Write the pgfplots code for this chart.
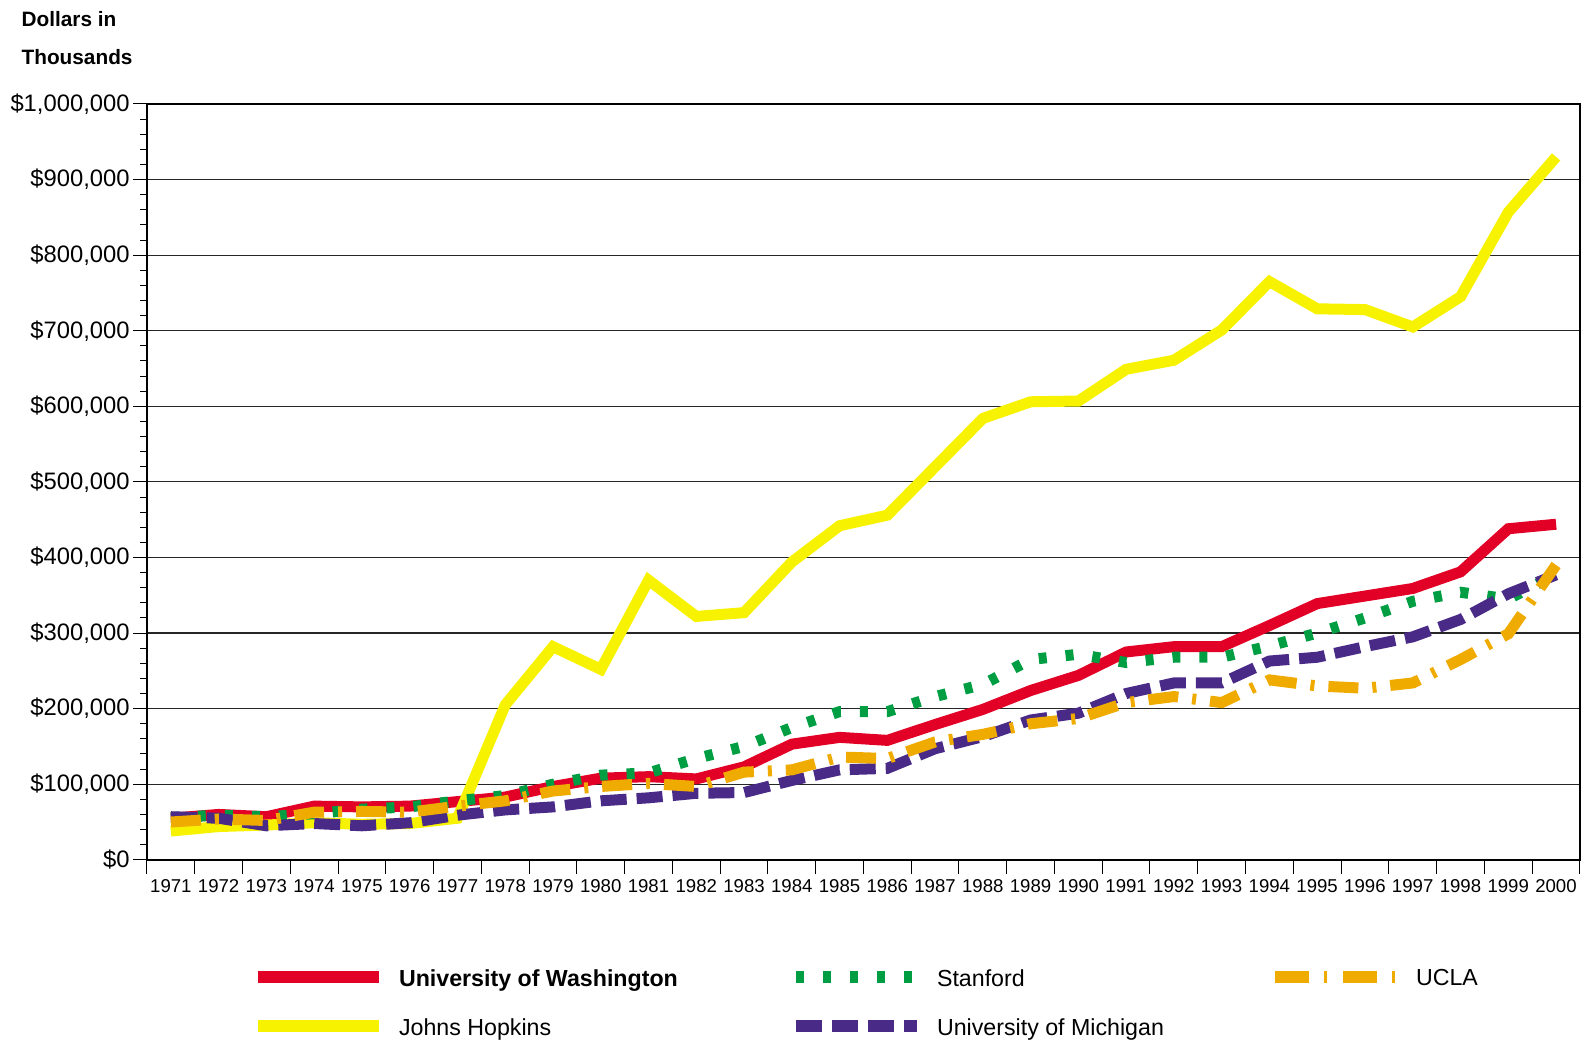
\documentclass[border=0pt]{standalone}
\usepackage{fontspec}
\setmainfont{Liberation Sans}
\usepackage{pgfplots}
\usepackage{pgfplotstable}
\pgfplotsset{compat=1.18}

\definecolor{uwred}{RGB}{226,0,38}
\definecolor{jhyellow}{RGB}{247,243,0}
\definecolor{sgreen}{RGB}{0,158,66}
\definecolor{uclaorange}{RGB}{240,171,0}
\definecolor{umpurple}{RGB}{74,42,135}

% endowment, dollars in thousands
\pgfplotstableread{
year uw     stanford ucla   jhu    umich
1971 55000  56000    50000  38000  57000
1972 60000  59000    54000  44000  55000
1973 57000  57000    52000  46000  45000
1974 71000  61000    63000  49000  48000
1975 70000  67000    64000  47000  45000
1976 71000  70000    63000  48000  49000
1977 77000  78000    71000  55000  59000
1978 83000  85000    78000  205000 66000
1979 97000  100000   91000  282000 70000
1980 108000 112000   97000  252000 78000
1981 110000 115000   101000 370000 82000
1982 107000 134000   97000  322000 88000
1983 123000 150000   116000 327000 89000
1984 153000 175000   119000 394000 105000
1985 162000 196000   136000 442000 119000
1986 158000 196000   134000 456000 121000
1987 179000 216000   156000 520000 147000
1988 199000 232000   166000 584000 163000
1989 224000 265000   180000 606000 185000
1990 244000 272000   187000 607000 194000
1991 275000 261000   208000 649000 220000
1992 282000 268000   216000 661000 234000
1993 282000 268000   208000 701000 234000
1994 310000 283000   238000 765000 263000
1995 339000 300000   230000 729000 268000
1996 349000 320000   227000 728000 282000
1997 359000 342000   234000 705000 295000
1998 381000 354000   265000 745000 318000
1999 438000 345000   299000 857000 352000
2000 444000 378000   390000 930000 377000
}\endow

\begin{document}
\begin{tikzpicture}
\path[use as bounding box] (-73.5pt,-89.65pt) rectangle (717pt,429.9pt);
\begin{axis}[
    at={(0,0)}, anchor=south west,
    scale only axis, width=716.5pt, height=377.9pt,
    xmin=1970.5, xmax=2000.5,
    ymin=0, ymax=1000000,
    xtick={1970.5,1971.5,...,2000.5},
    xticklabels={1971,1972,1973,1974,1975,1976,1977,1978,1979,1980,1981,1982,1983,1984,1985,1986,1987,1988,1989,1990,1991,1992,1993,1994,1995,1996,1997,1998,1999,2000,{}},
    xticklabel style={xshift=11.94pt, yshift=-2.5pt, anchor=north, inner sep=0pt, font=\fontsize{9.3}{11}\selectfont},
    ytick={0,100000,...,1000000},
    minor y tick num=4,
    yticklabel={\$\pgfmathprintnumber{\tick}},
    yticklabel style={anchor=east, inner sep=0pt, xshift=-1.5pt, font=\fontsize{11.9}{13}\selectfont},
    /pgf/number format/.cd, fixed, precision=0, 1000 sep={,}, assume math mode=true,
    /pgfplots/.cd,
    scaled ticks=false,
    tick align=outside, xtick pos=bottom, ytick pos=left,
    major tick length=7pt, minor tick length=3.5pt,
    tick style={black, line width=0.5pt},
    ymajorgrids, major grid style={black!85, line width=0.6pt},
    axis line style={line width=1pt},
    legend columns=3,
    legend style={at={(axis description cs:0.0733,-0.1451)}, anchor=north west,
        draw=none, fill=none, inner sep=0pt, outer sep=0pt,
        column sep=0pt, row sep=14.5pt, nodes={inner sep=0pt},
        font=\fontsize{11.6}{14}\selectfont},
    legend cell align=left,
    legend image code/.code={\draw[#1] (0pt,1.2pt) -- (60.5pt,1.2pt);},
]
\addplot[uwred, line width=5.5pt, forget plot] table[x=year, y=uw] {\endow};
\addplot[jhyellow, line width=5.5pt, forget plot] table[x=year, y=jhu] {\endow};
\addplot[sgreen, line width=5.5pt, dash pattern=on 4pt off 9.5pt, forget plot] table[x=year, y=stanford] {\endow};
\addplot[umpurple, line width=5.5pt, dash pattern=on 13pt off 5pt, forget plot] table[x=year, y=umich] {\endow};
\addplot[uclaorange, line width=5.5pt, dash pattern=on 15pt off 7pt on 2pt off 7pt, forget plot] table[x=year, y=ucla] {\endow};

\addlegendimage{uwred, line width=6pt}
\addlegendentry{\hspace*{7pt}\makebox[195.5pt][l]{\textbf{University of Washington}}}
\addlegendimage{sgreen, line width=6pt, dash pattern=on 4pt off 9.5pt}
\addlegendentry{\hspace*{7pt}\makebox[166pt][l]{Stanford}}
\addlegendimage{uclaorange, line width=6pt, dash pattern=on 17pt off 7.5pt on 1.5pt off 8pt}
\addlegendentry{\hspace*{7pt}UCLA}
\addlegendimage{jhyellow, line width=6pt}
\addlegendentry{\hspace*{7pt}\makebox[195.5pt][l]{Johns Hopkins}}
\addlegendimage{umpurple, line width=6pt, dash pattern=on 13pt off 5pt}
\addlegendentry{\hspace*{7pt}\makebox[166pt][l]{University of Michigan}}
\end{axis}
\node[anchor=base west, inner sep=0pt, font=\bfseries\fontsize{10.4}{12}\selectfont] at (-62.9pt,416.6pt) {Dollars in};
\node[anchor=base west, inner sep=0pt, font=\bfseries\fontsize{10.4}{12}\selectfont] at (-62.9pt,397.4pt) {Thousands};
\end{tikzpicture}
\end{document}
